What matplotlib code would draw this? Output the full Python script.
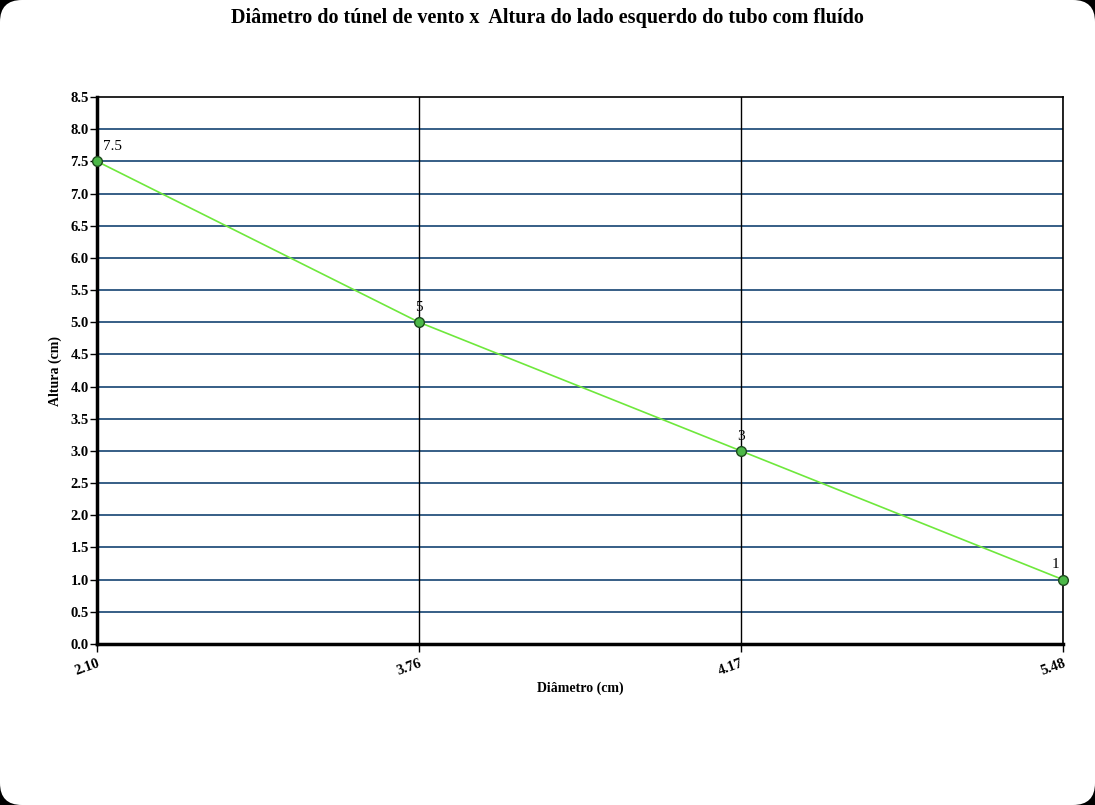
import numpy as np
import matplotlib.pyplot as plt
from matplotlib.patches import FancyBboxPatch

# Chart data
diametros = ['2.10', '3.76', '4.17', '5.48']
alturas = [7.5, 5, 3, 1]
rotulos = ['7.5', '5', '3', '1']

plt.rcParams['font.family'] = ['Liberation Serif', 'DejaVu Serif']

fig = plt.figure(figsize=(10.95, 8.05), dpi=100, facecolor='black')

# White rounded background
bg = FancyBboxPatch((0.0, 0.0), 1.0, 1.0, boxstyle='round,pad=0,rounding_size=0.02',
                    transform=fig.transFigure, facecolor='white', edgecolor='none',
                    mutation_aspect=1095 / 805, zorder=-10)
fig.patches.append(bg)

ax = fig.add_axes([0.0886, 0.2, 0.8822, 0.6795])
ax.set_facecolor('white')

x = np.arange(len(diametros))

# Grid lines
for yv in np.arange(0.5, 8.5, 0.5):
    ax.axhline(yv, color='#003366', lw=1.1, zorder=1)
for xv in x[1:]:
    ax.axvline(xv, color='black', lw=1.0, zorder=1)

ax.plot(x, alturas, color='#6ee83c', lw=1.2, zorder=3)
ax.plot(x, alturas, 'o', ms=7, mfc='#4cb848', mec='#1e4a1e', mew=1.0, zorder=4,
        clip_on=False)

offsets = [(4, 6, 'left'), (0, 6, 'center'), (0, 6, 'center'), (-3, 6, 'right')]
for xi, yi, lab, (dx, dy, ha) in zip(x, alturas, rotulos, offsets):
    ax.annotate(lab, (xi, yi), xytext=(dx, dy), textcoords='offset points',
                ha=ha, va='bottom', fontsize=11, color='black', zorder=5)

ax.set_xlim(0, 3)
ax.set_ylim(0, 8.5)
ax.set_xticks(x)
ax.set_xticklabels(diametros, rotation=20, fontsize=10.5, fontweight='bold',
                   ha='right', rotation_mode='anchor')
ax.set_yticks(np.arange(0, 8.51, 0.5))
ax.set_yticklabels(['%.1f' % v for v in np.arange(0, 8.51, 0.5)], fontsize=10.5,
                   fontweight='bold')
ax.tick_params(axis='x', length=6, width=1, pad=3)
ax.tick_params(axis='y', length=5, width=1, pad=1)

for s in ['left', 'bottom']:
    ax.spines[s].set_linewidth(2.5)
for s in ['top', 'right']:
    ax.spines[s].set_linewidth(1.2)

ax.set_xlabel('Diâmetro (cm)', fontsize=10, fontweight='bold', labelpad=3)
ax.set_ylabel('Altura (cm)', fontsize=10, fontweight='bold', labelpad=6)

fig.text(0.5, 0.99, 'Diâmetro do túnel de vento x  Altura do lado esquerdo do tubo com fluído',
         ha='center', va='top', fontsize=14.5, fontweight='bold')

fig.savefig('out.png', dpi=100, facecolor='black')
